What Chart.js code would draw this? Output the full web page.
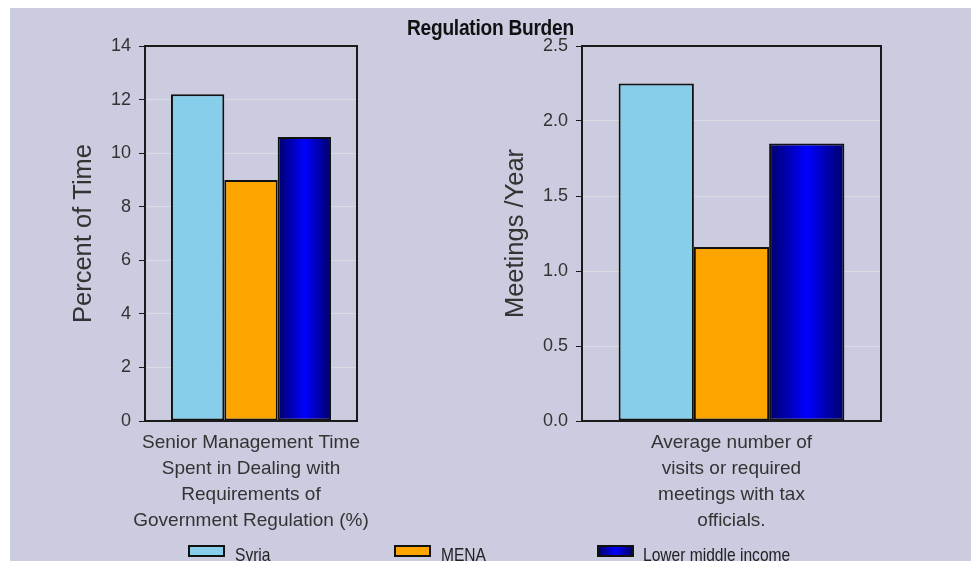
<!DOCTYPE html>
<html>
<head>
<meta charset="utf-8">
<script src="https://cdn.jsdelivr.net/npm/chart.js@4/dist/chart.umd.min.js"></script>
<style>
  html, body { margin: 0; padding: 0; background: #fff; }
  #frame { position: absolute; left: 10px; top: 8px; width: 961px; height: 553px; background: #cbccdf; overflow: hidden; }
  #title { position: absolute; left: 0; width: 961px; top: 7px; text-align: center;
    font: bold 22px "Liberation Sans", Arial, sans-serif; color: #111; letter-spacing: -0.3px;
    transform: scaleX(0.87); transform-origin: 480px 0; }
  canvas { position: absolute; top: 0; }
  #leftBox { position: absolute; left: 0; top: 0; width: 470px; height: 553px; }
  #rightBox { position: absolute; left: 470px; top: 0; width: 485px; height: 553px; }
  .leg { position: absolute; top: 537px; height: 20px; font: 19px "Liberation Sans", Arial, sans-serif; color: #222; white-space: nowrap; }
  .leg span.box { position: absolute; left: 0; top: 0; width: 33px; height: 8px; border: 2px solid #111; }
  .leg span.txt { position: absolute; top: -1px; transform: scaleX(0.82); transform-origin: 0 0; }
</style>
</head>
<body>
<div id="frame">
  <div id="leftBox"><canvas id="leftChart"></canvas></div>
  <div id="rightBox"><canvas id="rightChart"></canvas></div>
  <div id="title">Regulation Burden</div>
  <div id="legend"></div>
</div>
<script>
const seriesNames = ["Syria", "MENA", "Lower middle income"];
const seriesColors = ["#87ceeb", "#ffa500", "#0000ff"];
const leftCategory = ["Senior Management Time", "Spent in Dealing with", "Requirements of", "Government Regulation (%)"];
const rightCategory = ["Average number of", "visits or required", "meetings with tax", "officials."];
const timeValues = [12.2, 9.0, 10.6];
const meetingValues = [2.25, 1.16, 1.85];

const plain = '"Liberation Sans", Arial, sans-serif';

// blue bar gets the dark-edge / bright-middle shading
const shadePlugin = {
  id: "shade",
  beforeDatasetsDraw(chart) {
    const meta = chart.getDatasetMeta(2);
    meta.data.forEach(el => {
      const { x, width } = el.getProps(["x", "width"], true);
      const g = chart.ctx.createLinearGradient(x - width / 2, 0, x + width / 2, 0);
      g.addColorStop(0, "#00006a");
      g.addColorStop(0.5, "#0000ff");
      g.addColorStop(1, "#00006a");
      el.options.backgroundColor = g;
    });
  }
};

const boxPlugin = {
  id: "plotBox",
  afterDatasetsDraw(chart) {
    const { left, top, right, bottom } = chart.chartArea;
    const ctx = chart.ctx;
    ctx.save();
    ctx.strokeStyle = "#1a1a1a";
    ctx.lineWidth = 2;
    ctx.strokeRect(left, top, right - left, bottom - top);
    ctx.restore();
  }
};

function makeChart(id, category, values, opts) {
  const ctx = document.getElementById(id).getContext("2d");
  return new Chart(ctx, {
    type: "bar",
    data: {
      labels: [category],
      datasets: seriesNames.map((name, i) => ({
        label: name,
        data: [values[i]],
        backgroundColor: seriesColors[i],
        borderColor: "#111",
        borderWidth: 2,
        borderSkipped: false,
        categoryPercentage: 0.755,
        barPercentage: 1.0
      }))
    },
    options: {
      responsive: true,
      maintainAspectRatio: false,
      animation: false,
      layout: { padding: { left: 0, right: opts.padRight, top: 38, bottom: 0 } },
      plugins: { legend: { display: false }, tooltip: { enabled: false } },
      scales: {
        x: {
          grid: { display: false, drawTicks: false },
          border: { display: false },
          ticks: { color: "#333", padding: 9, font: { family: plain, size: 19, lineHeight: 1.37 } },
          afterFit: s => { s.height = 140; }
        },
        y: {
          min: 0,
          max: opts.max,
          ticks: {
            stepSize: opts.step,
            color: "#333",
            padding: 8,
            font: { family: plain, size: 18 },
            callback: v => opts.fmt(v)
          },
          grid: { color: "#dcdce4", lineWidth: 1, tickLength: 6, tickColor: "#1a1a1a" },
          border: { display: false },
          title: {
            display: true,
            text: opts.title,
            color: "#333",
            font: { family: plain, size: 25.5 },
            padding: { top: opts.titlePad, bottom: 0 }
          },
          afterFit: s => { s.width = opts.axisWidth; }
        }
      }
    },
    plugins: [shadePlugin, boxPlugin]
  });
}

makeChart("leftChart", leftCategory, timeValues, {
  max: 14, step: 2, fmt: v => String(v), title: "Percent of Time",
  axisWidth: 135, padRight: 123, titlePad: 59
});
makeChart("rightChart", rightCategory, meetingValues, {
  max: 2.5, step: 0.5, fmt: v => v.toFixed(1), title: "Meetings /Year",
  axisWidth: 102, padRight: 84, titlePad: 21
});

// shared legend under both charts
const legendX = [178, 384, 587];
const legend = document.getElementById("legend");
seriesNames.forEach((name, i) => {
  const item = document.createElement("div");
  item.className = "leg";
  item.style.left = legendX[i] + "px";
  const box = document.createElement("span");
  box.className = "box";
  box.style.background = i === 2
    ? "linear-gradient(90deg, #00006a, #0000ff, #00006a)"
    : seriesColors[i];
  const txt = document.createElement("span");
  txt.className = "txt";
  txt.style.left = (i === 2 ? 46 : 47) + "px";
  txt.textContent = name;
  item.appendChild(box);
  item.appendChild(txt);
  legend.appendChild(item);
});
</script>
</body>
</html>
